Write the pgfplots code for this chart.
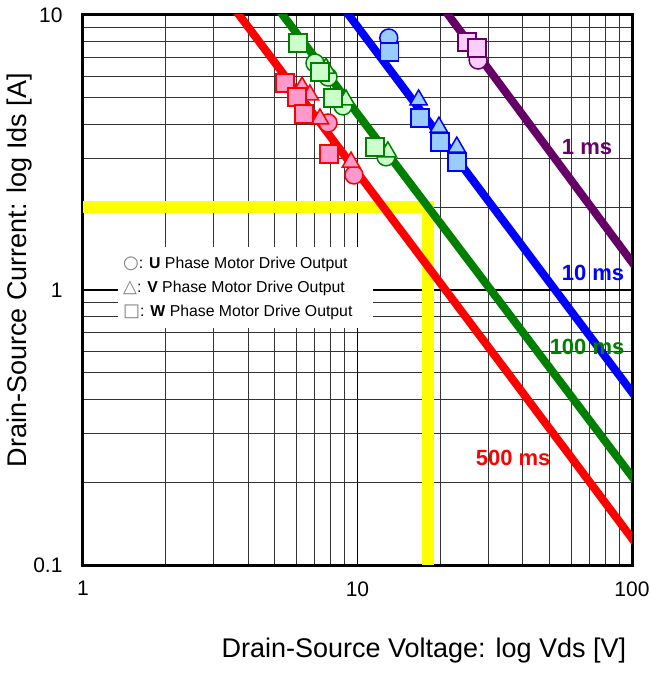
\documentclass[border=0pt]{standalone}
\usepackage{pgfplots}
\pgfplotsset{compat=1.18}
\usepackage{fontspec}
\setmainfont{Liberation Sans}
\newfontfamily\symfont{DejaVu Sans}
\definecolor{cred}{HTML}{FF0000}
\definecolor{cgreen}{HTML}{008000}
\definecolor{cblue}{HTML}{0000FF}
\definecolor{cpurple}{HTML}{660066}
\definecolor{fred}{HTML}{FF99CC}
\definecolor{fgreen}{HTML}{CCFFCC}
\definecolor{fblue}{HTML}{99CCFF}
\definecolor{fpurple}{HTML}{FFCCFF}
\definecolor{cyellow}{HTML}{FFFF00}
\newcommand{\lsym}[1]{{\color{gray}\symfont\fontsize{18bp}{24bp}\selectfont #1}}
\begin{document}
\begin{tikzpicture}
\begin{axis}[
  name=ax, at={(0,0)}, anchor=south west,
  scale only axis, width=549bp, height=550bp,
  xmode=log, ymode=log,
  xmin=1, xmax=100, ymin=0.1, ymax=10,
  xtick={1,10,100}, xticklabels={1,10,100},
  ytick={0.1,1,10}, yticklabels={0.1,1,10},
  minor xtick={2,3,4,5,6,7,8,9,20,30,40,50,60,70,80,90},
  minor ytick={0.2,0.3,0.4,0.5,0.6,0.7,0.8,0.9,2,3,4,5,6,7,8,9},
  grid=both,
  major grid style={black, line width=1.8bp},
  minor grid style={black!80, line width=1bp},
  major tick length=0pt, minor tick length=0pt,
  axis line style={line width=3bp, black},
  /pgf/number format/assume math mode=true,
  xticklabel style={font=\fontsize{21bp}{25bp}\selectfont, yshift=-13bp},
  yticklabel style={font=\fontsize{21bp}{25bp}\selectfont, xshift=-17bp},
  xlabel={Drain-Source Voltage: log Vds [V]},
  ylabel={Drain-Source Current: log Ids [A]},
  xlabel style={font=\fontsize{27bp}{30bp}\selectfont, at={(rel axis cs:0.621,0)}, anchor=base, yshift=-92bp},
  ylabel style={font=\fontsize{27bp}{30bp}\selectfont, at={(rel axis cs:0,0.536)}, anchor=center, yshift=63bp},
  clip=true,
]
% SOA boundary marker (yellow)
\addplot[cyellow, line width=12bp, no marks, line join=miter] coordinates {(1,2) (18,2) (18,0.1)};
% SOA lines
\addplot[cred, line width=8bp, no marks] coordinates {(2.2,20) (200,0.0497)};
\addplot[cgreen, line width=8bp, no marks] coordinates {(3.16,20) (200,0.084)};
\addplot[cblue, line width=8bp, no marks] coordinates {(5.52,20) (200,0.169)};
\addplot[cpurple, line width=8bp, no marks] coordinates {(12.8,20) (200,0.497)};
% circles
\addplot[only marks, mark=*, mark size=9bp, draw=cred, fill=fred, line width=1.5bp] coordinates {(7.81,4.05) (9.71,2.62)};
\addplot[only marks, mark=*, mark size=9bp, draw=cgreen, fill=fgreen, line width=1.5bp] coordinates {(7.0,6.69) (7.81,5.95) (8.85,4.67) (12.7,3.05)};
\addplot[only marks, mark=*, mark size=9bp, draw=cblue, fill=fblue, line width=1.5bp] coordinates {(13.0,8.25)};
\addplot[only marks, mark=*, mark size=9bp, draw=cpurple, fill=fpurple, line width=1.5bp] coordinates {(27.5,6.86)};
% triangles
\addplot[only marks, mark=triangle*, mark size=10bp, draw=cred, fill=fred, line width=1.5bp] coordinates {(6.28,5.47) (6.71,5.12) (7.30,4.19) (9.47,2.92)};
\addplot[only marks, mark=triangle*, mark size=10bp, draw=cgreen, fill=fgreen, line width=1.5bp] coordinates {(7.68,6.41) (9.08,4.91) (12.9,3.18)};
\addplot[only marks, mark=triangle*, mark size=10bp, draw=cblue, fill=fblue, line width=1.5bp] coordinates {(16.7,4.91) (19.8,3.91) (23.0,3.31)};
% squares
\addplot[only marks, mark=square*, mark size=9bp, draw=cred, fill=fred, line width=1.5bp] coordinates {(5.44,5.66) (6.02,5.03) (6.38,4.37) (7.87,3.12)};
\addplot[only marks, mark=square*, mark size=9bp, draw=cgreen, fill=fgreen, line width=1.5bp] coordinates {(6.07,7.91) (7.3,6.2) (8.14,4.99) (11.6,3.31)};
\addplot[only marks, mark=square*, mark size=9bp, draw=cblue, fill=fblue, line width=1.5bp] coordinates {(13.1,7.33) (16.9,4.22) (19.97,3.45) (23.0,2.92)};
\addplot[only marks, mark=square*, mark size=9bp, draw=cpurple, fill=fpurple, line width=1.5bp] coordinates {(25.1,7.98) (27.3,7.59)};
% legend box
\fill[white] (axis cs:1.341,0.727) rectangle (axis cs:11.39,1.432);
\node[anchor=west, align=left, inner sep=0pt, font=\fontsize{15.8bp}{24bp}\selectfont] at (axis cs:1.399,1.017)
  {\lsym{○}: \textbf{U} Phase Motor Drive Output\\
   \lsym{△}: \textbf{V} Phase Motor Drive Output\\
   \lsym{□}: \textbf{W} Phase Motor Drive Output};
% curve labels
\node[cpurple, font=\fontsize{22bp}{24bp}\selectfont\bfseries] at (axis cs:68.6,3.31) {1 ms};
\node[cblue, font=\fontsize{22bp}{24bp}\selectfont\bfseries] at (axis cs:72.1,1.153) {10 ms};
\node[cgreen, font=\fontsize{22bp}{24bp}\selectfont\bfseries] at (axis cs:68.6,0.621) {100 ms};
\node[cred, font=\fontsize{22bp}{24bp}\selectfont\bfseries] at (axis cs:36.9,0.245) {500 ms};
\end{axis}
\pgfresetboundingbox
\path[use as bounding box] ([shift={(-83bp,-108bp)}]ax.south west) rectangle ([shift={(19bp,15bp)}]ax.north east);
\end{tikzpicture}
\end{document}
